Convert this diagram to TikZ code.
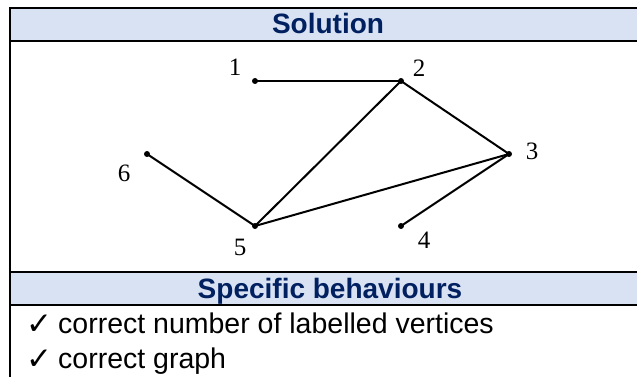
\documentclass[tikz,border=0pt]{standalone}
\usepackage{fontspec}
\usepackage{xcolor}
\newfontfamily\tabfont{Liberation Sans}
\newfontfamily\tickfont{DejaVu Sans}
\newfontfamily\vxfont{Liberation Serif}
\definecolor{headblue}{HTML}{D9E2F3}
\definecolor{headnavy}{HTML}{002060}
\tikzset{
  tabhead/.style={fill=headblue, draw=none},
  tabrule/.style={line width=2pt, draw=black, line cap=rect},
  headtext/.style={font=\tabfont\bfseries\fontsize{28}{32}\selectfont, text=headnavy, anchor=base, inner sep=0pt},
  bodytext/.style={font=\tabfont\fontsize{28.5}{33}\selectfont, anchor=base west, inner sep=0pt},
  ticktext/.style={font=\tickfont\fontsize{31}{36}\selectfont, anchor=base west, inner sep=0pt},
  vx/.style={circle, fill=black, inner sep=0pt, minimum size=6pt},
  vxlabel/.style={font=\vxfont\fontsize{25}{30}\selectfont, inner sep=0pt},
  edge/.style={line width=2pt, draw=black},
}

\begin{document}
\begin{tikzpicture}[x=1pt, y=-1pt]
\useasboundingbox (0,0) rectangle (637,377);
% header fills
\fill[tabhead] (10,8) rectangle (637,41);
\fill[tabhead] (10,272) rectangle (637,305);
% table rules
\draw[tabrule] (10,8) -- (637,8);
\draw[tabrule] (10,41) -- (637,41);
\draw[tabrule] (10,272) -- (637,272);
\draw[tabrule] (10,305) -- (637,305);
\draw[tabrule] (10,8) -- (10,377);
% headings
\node[headtext] (hsol) at (328,34) {Solution};
\node[headtext] (hbeh) at (330,298) {Specific behaviours};
% vertices
\node[vx] (v1) at (255,81) {};
\node[vx] (v2) at (401,81) {};
\node[vx] (v3) at (509,154) {};
\node[vx] (v4) at (401,226) {};
\node[vx] (v5) at (255,226) {};
\node[vx] (v6) at (147,154) {};
% vertex labels
\node[vxlabel] (l1) at (235,67) {1};
\node[vxlabel] (l2) at (419,68) {2};
\node[vxlabel] (l3) at (532,151) {3};
\node[vxlabel] (l4) at (424,240) {4};
\node[vxlabel] (l5) at (240,247) {5};
\node[vxlabel] (l6) at (124,173) {6};
% edges
\draw[edge] (v1.center) -- (v2.center);
\draw[edge] (v2.center) -- (v3.center);
\draw[edge] (v2.center) -- (v5.center);
\draw[edge] (v3.center) -- (v5.center);
\draw[edge] (v3.center) -- (v4.center);
\draw[edge] (v6.center) -- (v5.center);
% marking points
\node[ticktext] (t1) at (26,334) {✓};
\node[bodytext] (p1) at (58,333) {correct number of labelled vertices};
\node[ticktext] (t2) at (26,369) {✓};
\node[bodytext] (p2) at (58,368) {correct graph};
\end{tikzpicture}
\end{document}
